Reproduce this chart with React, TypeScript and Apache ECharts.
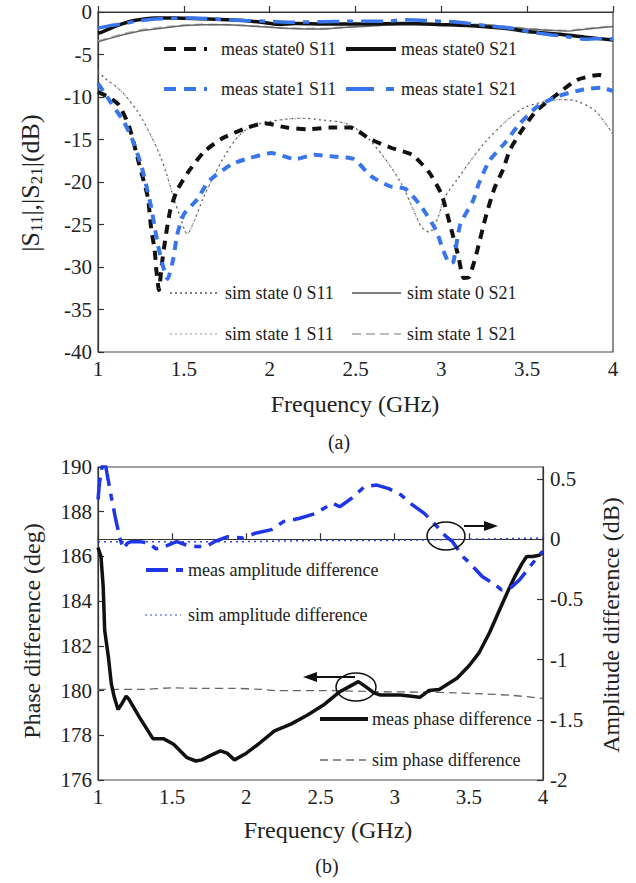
import React, { useEffect, useRef } from "react";
import * as echarts from "echarts";

// ---------- data (top chart: |S11|, |S21| in dB vs frequency GHz) ----------
const freqTicks = [1, 1.5, 2, 2.5, 3, 3.5, 4];

const measState0S11: [number, number][] = [
  [1.0, -9.4], [1.06, -10.0], [1.12, -10.9], [1.18, -13.4], [1.24, -17.9], [1.29, -21.8],
  [1.31, -25.5], [1.33, -28.0], [1.34, -30.4], [1.355, -32.7], [1.37, -30.0], [1.39, -27.0],
  [1.42, -23.4], [1.46, -21.0], [1.53, -18.7], [1.62, -16.4], [1.73, -14.8], [1.87, -13.6],
  [1.97, -13.1], [2.1, -13.6], [2.22, -13.8], [2.35, -13.6], [2.47, -13.6], [2.59, -15.0],
  [2.71, -16.0], [2.83, -16.8], [2.93, -18.9], [3.0, -21.4], [3.04, -24.2], [3.07, -26.5],
  [3.1, -28.8], [3.13, -31.3], [3.16, -31.2], [3.19, -29.5], [3.21, -28.0], [3.26, -24.0],
  [3.31, -20.7], [3.36, -18.5], [3.4, -16.2], [3.47, -13.9], [3.55, -11.7], [3.68, -9.6],
  [3.79, -8.0], [3.92, -7.4], [3.96, -7.6],
];

const measState1S11: [number, number][] = [
  [1.0, -8.4], [1.07, -10.5], [1.15, -12.9], [1.2, -15.0], [1.25, -17.9], [1.28, -20.3],
  [1.31, -23.0], [1.33, -25.3], [1.35, -27.5], [1.38, -30.0], [1.405, -31.4], [1.44, -28.9],
  [1.46, -26.3], [1.5, -23.8], [1.58, -22.0], [1.645, -19.9], [1.78, -17.9], [1.88, -17.2],
  [2.01, -16.6], [2.15, -17.3], [2.26, -16.8], [2.37, -17.0], [2.49, -17.3], [2.59, -19.3],
  [2.7, -20.5], [2.79, -20.8], [2.88, -22.8], [2.97, -25.7], [3.01, -28.0], [3.05, -29.6],
  [3.07, -29.4], [3.11, -25.0], [3.185, -22.2], [3.22, -20.1], [3.28, -17.5], [3.37, -15.4],
  [3.45, -13.3], [3.56, -11.1], [3.68, -9.9], [3.81, -9.2], [3.93, -8.9], [4.0, -9.3],
];

const simState0S11: [number, number][] = [
  [1.0, -7.0], [1.04, -7.8], [1.13, -9.2], [1.23, -11.7], [1.305, -14.4], [1.36, -16.8],
  [1.4, -19.1], [1.44, -21.8], [1.48, -24.2], [1.52, -26.1], [1.56, -24.6], [1.615, -21.8],
  [1.67, -19.5], [1.73, -17.2], [1.81, -14.8], [1.89, -13.5], [2.0, -12.9], [2.1, -12.6],
  [2.2, -12.5], [2.3, -12.7], [2.44, -13.1], [2.55, -14.4], [2.67, -17.2], [2.77, -20.3],
  [2.84, -23.4], [2.885, -25.3], [2.93, -25.9], [2.98, -24.2], [3.02, -21.8], [3.1, -19.5],
  [3.17, -17.5], [3.26, -15.2], [3.38, -12.8], [3.48, -11.3], [3.57, -10.7], [3.69, -10.3],
  [3.79, -10.5], [3.9, -11.7], [4.0, -14.4],
];

const simState1S11: [number, number][] = [
  [1.0, -7.0], [1.04, -7.8], [1.13, -9.2], [1.23, -11.7], [1.305, -14.4], [1.36, -16.8],
  [1.4, -19.1], [1.44, -21.8], [1.48, -24.2], [1.52, -26.1], [1.56, -24.6], [1.615, -21.8],
  [1.67, -19.5], [1.73, -17.2], [1.81, -14.8], [1.89, -13.5], [2.0, -12.9], [2.1, -12.6],
  [2.2, -12.5], [2.3, -12.7], [2.44, -13.1], [2.55, -14.4], [2.67, -17.2], [2.77, -20.3],
  [2.84, -23.4], [2.885, -25.3], [2.93, -25.9], [2.98, -24.2], [3.02, -21.8], [3.1, -19.5],
  [3.17, -17.5], [3.26, -15.2], [3.38, -12.8], [3.48, -11.3], [3.57, -10.7], [3.69, -10.3],
  [3.79, -10.5], [3.9, -11.7], [4.0, -14.4],
];

const measState0S21: [number, number][] = [
  [1.0, -2.5], [1.03, -2.3], [1.07, -1.95], [1.14, -1.4], [1.21, -1.0], [1.33, -0.7],
  [1.45, -0.7], [1.61, -0.8], [1.75, -0.9], [1.85, -1.0], [1.95, -1.2], [2.05, -1.45],
  [2.15, -1.35], [2.32, -1.4], [2.55, -1.4], [2.79, -1.35], [3.02, -1.5], [3.15, -1.6],
  [3.26, -1.75], [3.4, -2.0], [3.5, -2.3], [3.62, -2.5], [3.73, -2.7], [3.86, -3.0], [4.0, -3.3],
];

const measState1S21: [number, number][] = [
  [1.0, -1.9], [1.07, -1.6], [1.14, -1.4], [1.25, -1.0], [1.37, -0.8], [1.54, -0.7],
  [1.7, -0.85], [1.85, -1.0], [2.0, -1.1], [2.13, -1.2], [2.3, -1.15], [2.44, -1.1],
  [2.67, -1.1], [2.8, -0.9], [2.91, -1.0], [3.1, -1.2], [3.26, -1.6], [3.4, -1.9],
  [3.57, -2.5], [3.73, -2.9], [3.85, -3.2], [3.95, -3.1], [4.0, -3.2],
];

const simState0S21: [number, number][] = [
  [1.0, -3.5], [1.07, -3.1], [1.14, -2.7], [1.25, -2.2], [1.37, -1.9], [1.5, -1.6],
  [1.61, -1.5], [1.75, -1.5], [1.85, -1.6], [2.0, -1.8], [2.08, -1.9], [2.2, -2.0],
  [2.32, -2.0], [2.45, -1.8], [2.55, -1.7], [2.7, -1.5], [2.79, -1.4], [3.02, -1.4],
  [3.26, -1.5], [3.5, -2.0], [3.62, -2.15], [3.74, -2.25], [3.85, -2.0], [4.0, -1.7],
];

const simState1S21: [number, number][] = [
  [1.0, -3.4], [1.07, -3.0], [1.14, -2.6], [1.25, -2.1], [1.37, -1.8], [1.5, -1.55],
  [1.61, -1.45], [1.75, -1.5], [1.85, -1.6], [2.0, -1.75], [2.08, -1.85], [2.2, -1.95],
  [2.32, -1.95], [2.45, -1.75], [2.55, -1.65], [2.7, -1.5], [2.79, -1.4], [3.02, -1.4],
  [3.26, -1.5], [3.5, -1.95], [3.62, -2.1], [3.74, -2.2], [3.85, -1.95], [4.0, -1.65],
];

// ---------- data (bottom chart: phase diff deg, amplitude diff dB) ----------
const measPhaseDiff: [number, number][] = [
  [1.0, 186.4], [1.02, 186.0], [1.035, 184.65], [1.045, 182.7], [1.07, 181.5], [1.09, 180.3],
  [1.11, 179.7], [1.135, 179.15], [1.16, 179.4], [1.19, 179.75], [1.21, 179.6], [1.28, 178.8],
  [1.37, 177.85], [1.44, 177.85], [1.51, 177.6], [1.6, 177.0], [1.66, 176.85], [1.7, 176.9],
  [1.76, 177.1], [1.825, 177.3], [1.87, 177.2], [1.92, 176.9], [2.0, 177.2], [2.08, 177.6],
  [2.19, 178.2], [2.3, 178.5], [2.41, 178.9], [2.52, 179.35], [2.63, 179.95], [2.7, 180.2],
  [2.755, 180.4], [2.8, 180.2], [2.86, 179.9], [2.905, 179.8], [3.04, 179.8], [3.17, 179.7],
  [3.23, 180.0], [3.3, 180.05], [3.42, 180.55], [3.5, 181.1], [3.57, 181.7], [3.64, 182.6],
  [3.7, 183.5], [3.76, 184.4], [3.81, 185.1], [3.86, 185.7], [3.89, 186.0], [3.93, 186.0],
  [3.975, 186.05], [4.0, 186.2],
];

const simPhaseDiff: [number, number][] = [
  [1.0, 180.05], [1.3, 180.05], [1.5, 180.12], [1.7, 180.1], [1.9, 180.1], [2.1, 180.05],
  [2.2, 180.0], [2.5, 180.0], [2.9, 179.95], [3.2, 179.93], [3.4, 179.9], [3.6, 179.85],
  [3.8, 179.78], [4.0, 179.65],
];

const measAmpDiff: [number, number][] = [
  [1.0, 0.33], [1.01, 0.47], [1.03, 0.62], [1.045, 0.66], [1.06, 0.55], [1.09, 0.35],
  [1.12, 0.16], [1.15, 0.0], [1.17, -0.08], [1.2, -0.03], [1.225, -0.02], [1.28, -0.02],
  [1.34, -0.03], [1.39, -0.08], [1.46, -0.056], [1.53, -0.02], [1.6, -0.05], [1.66, -0.06],
  [1.73, -0.06], [1.785, -0.02], [1.87, 0.02], [1.98, 0.01], [2.06, 0.05], [2.17, 0.08],
  [2.25, 0.146], [2.36, 0.174], [2.47, 0.215], [2.58, 0.3], [2.63, 0.27], [2.71, 0.34],
  [2.795, 0.436], [2.88, 0.45], [2.96, 0.42], [3.04, 0.37], [3.12, 0.285], [3.2, 0.215],
  [3.29, 0.1], [3.34, 0.03], [3.39, -0.02], [3.46, -0.145], [3.5, -0.19], [3.59, -0.31],
  [3.68, -0.38], [3.72, -0.42], [3.785, -0.4], [3.84, -0.34], [3.885, -0.27], [3.975, -0.13],
  [4.0, -0.1],
];

const simAmpDiff: [number, number][] = [
  [1.0, -0.02], [1.5, -0.02], [2.0, -0.02], [2.5, -0.01], [3.0, -0.01], [3.5, 0.0], [4.0, 0.01],
];

const FONT = "'Liberation Serif', 'Times New Roman', 'DejaVu Serif', serif";
const BLUE_TOP = "#3a76eb";
const BLUE_BOT = "#1f35e8";

const axisLineStyle = { color: "#333", width: 1.2 };
const tickLabel = { color: "#222", fontSize: 21, fontFamily: FONT };

function legendLine(x1: number, x2: number, y: number, stroke: string, lineWidth: number, lineDash?: number[]) {
  return {
    type: "line",
    shape: { x1, y1: y, x2, y2: y },
    style: { stroke, lineWidth, lineDash: lineDash || null },
    z: 10,
  };
}
function legendText(x: number, y: number, text: string) {
  return {
    type: "text",
    x,
    y,
    style: { text, fontSize: 18, fontFamily: FONT, fill: "#222", align: "left", verticalAlign: "middle" },
    z: 10,
  };
}
function centerText(x: number, y: number, text: string, fontSize: number, rotation = 0) {
  return {
    type: "text",
    x,
    y,
    rotation,
    style: { text, fontSize, fontFamily: FONT, fill: "#222", align: "center", verticalAlign: "middle" },
    z: 10,
  };
}

const DASH_S11_LEGEND = [12, 8, 12, 8, 3, 8];
const DASH_S11 = [9, 7];
const DASH_S21B = [22, 8, 6, 8];
const DASH_AMP = [22, 8, 7, 8];

function buildOption() {
  const graphic: any[] = [
    // top legends
    legendLine(164, 212, 49, "#111", 4, DASH_S11_LEGEND),
    legendText(221, 49, "meas state0 S11"),
    legendLine(346, 396, 49, "#111", 4),
    legendText(401, 49, "meas state0 S21"),
    legendLine(164, 212, 89, BLUE_TOP, 4, DASH_S11_LEGEND),
    legendText(221, 89, "meas state1 S11"),
    legendLine(346, 396, 89, BLUE_TOP, 4, [28, 12, 8, 12]),
    legendText(401, 89, "meas state1 S21"),
    legendLine(170, 219, 293, "#555", 1.5, [2, 3]),
    legendText(225, 293, "sim state 0 S11"),
    legendLine(352, 401, 293, "#555", 1.5),
    legendText(407, 293, "sim state 0 S21"),
    legendLine(170, 219, 334, "#bbb", 1.5, [2, 3]),
    legendText(225, 334, "sim state 1 S11"),
    legendLine(352, 401, 334, "#bbb", 2, [9, 5]),
    legendText(407, 334, "sim state 1 S21"),
    // bottom legends
    legendLine(146, 184, 570, BLUE_BOT, 4, [22, 8, 7, 8]),
    legendText(188, 570, "meas amplitude difference"),
    legendLine(145, 181, 615, "#7a84e6", 1.5, [2, 3]),
    legendText(188, 615, "sim amplitude difference"),
    legendLine(320, 368, 719, "#111", 4),
    legendText(372, 719, "meas phase difference"),
    legendLine(320, 366, 760, "#666", 1.5, [8, 5]),
    legendText(372, 760, "sim phase difference"),
    // annotations
    { type: "ellipse", shape: { cx: 446, cy: 536, rx: 19, ry: 14 }, style: { fill: "none", stroke: "#111", lineWidth: 1.5 }, z: 10 },
    { type: "line", shape: { x1: 464, y1: 526, x2: 486, y2: 526 }, style: { stroke: "#111", lineWidth: 2 }, z: 10 },
    { type: "polygon", shape: { points: [[498, 526], [484, 521], [484, 531]] }, style: { fill: "#111" }, z: 10 },
    { type: "ellipse", shape: { cx: 356, cy: 687, rx: 20, ry: 14 }, style: { fill: "none", stroke: "#111", lineWidth: 1.5 }, z: 10 },
    { type: "line", shape: { x1: 355, y1: 677, x2: 315, y2: 677 }, style: { stroke: "#111", lineWidth: 2 }, z: 10 },
    { type: "polygon", shape: { points: [[303, 677], [317, 672], [317, 682]] }, style: { fill: "#111" }, z: 10 },
    // titles
    centerText(355, 404, "Frequency (GHz)", 24),
    centerText(339, 442, "(a)", 20),
    centerText(328, 830, "Frequency (GHz)", 24),
    centerText(327, 866, "(b)", 20),
    centerText(32, 631, "Phase difference (deg)", 24, Math.PI / 2),
    centerText(611, 625, "Amplitude difference (dB)", 24, Math.PI / 2),
    {
      type: "text",
      x: 30,
      y: 183,
      rotation: Math.PI / 2,
      style: {
        text: "|S{s|11}|,|S{s|21}|(dB)",
        fontSize: 26,
        fontFamily: FONT,
        fill: "#222",
        align: "center",
        verticalAlign: "middle",
        lineHeight: 30,
        rich: {
          s: { fontSize: 17, fontFamily: FONT, fill: "#222", verticalAlign: "bottom", lineHeight: 17 },
        },
      },
      z: 10,
    },
  ];

  const lineSeries = (
    name: string,
    data: [number, number][],
    color: string,
    width: number,
    type: any,
    axis: { x: number; y: number },
    smooth: number | boolean = false
  ) => ({
    name,
    type: "line",
    xAxisIndex: axis.x,
    yAxisIndex: axis.y,
    data,
    showSymbol: false,
    symbol: "none",
    smooth,
    clip: true,
    lineStyle: { color, width, type, cap: "butt" },
    itemStyle: { color },
  });

  const top = { x: 0, y: 0 };
  const botL = { x: 1, y: 1 };
  const botR = { x: 1, y: 2 };

  return {
    animation: false,
    backgroundColor: "#fff",
    textStyle: { fontFamily: FONT },
    grid: [
      { left: 98, top: 12, width: 515, height: 340, show: true, borderColor: "#444", borderWidth: 1.2, backgroundColor: "transparent", containLabel: false, outerBoundsMode: "none" },
      { left: 98, top: 467, width: 445, height: 313, show: true, borderColor: "#444", borderWidth: 1.2, backgroundColor: "transparent", containLabel: false, outerBoundsMode: "none" },
    ],
    xAxis: [0, 1].map((g) => ({
      type: "value",
      gridIndex: g,
      min: freqTicks[0],
      max: freqTicks[freqTicks.length - 1],
      interval: 0.5,
      axisLine: { show: true, lineStyle: axisLineStyle },
      axisTick: { inside: true, length: 6, lineStyle: { color: "#333", width: 1.2 } },
      axisLabel: { ...tickLabel, margin: 6 },
      splitLine: { show: false },
    })),
    yAxis: [
      {
        type: "value",
        gridIndex: 0,
        min: -40,
        max: 0,
        interval: 5,
        axisLine: { show: true, lineStyle: axisLineStyle },
        axisTick: { inside: true, length: 6, lineStyle: { color: "#333", width: 1.2 } },
        axisLabel: { ...tickLabel, margin: 6 },
        splitLine: { show: false },
      },
      {
        type: "value",
        gridIndex: 1,
        min: 176,
        max: 190,
        interval: 2,
        axisLine: { show: true, lineStyle: axisLineStyle },
        axisTick: { inside: true, length: 6, lineStyle: { color: "#333", width: 1.2 } },
        axisLabel: { ...tickLabel, margin: 6 },
        splitLine: { show: false },
      },
      {
        type: "value",
        gridIndex: 1,
        position: "right",
        min: -2,
        max: 0.6,
        interval: 0.5,
        axisLine: { show: true, lineStyle: axisLineStyle },
        axisTick: { inside: true, length: 6, lineStyle: { color: "#333", width: 1.2 } },
        axisLabel: {
          ...tickLabel,
          margin: 7,
          showMaxLabel: false,
          formatter: (v: number) => (Math.abs(v - 0.6) < 1e-6 ? "" : String(v)),
        },
        splitLine: { show: false },
      },
    ],
    series: [
      lineSeries("sim state 1 S21", simState1S21, "#bbb", 2, [9, 5], top),
      lineSeries("sim state 0 S21", simState0S21, "#666", 1.5, "solid", top),
      lineSeries("sim state 1 S11", simState1S11, "#bbb", 1.5, [2, 3], top, 0.3),
      lineSeries("sim state 0 S11", simState0S11, "#555", 1.2, [1.5, 4], top, 0.3),
      lineSeries("meas state0 S21", measState0S21, "#111", 3.5, "solid", top, 0.3),
      lineSeries("meas state1 S21", measState1S21, BLUE_TOP, 3.5, DASH_S21B, top, 0.3),
      lineSeries("meas state0 S11", measState0S11, "#111", 4, DASH_S11, top, 0.2),
      lineSeries("meas state1 S11", measState1S11, BLUE_TOP, 4, DASH_S11, top, 0.2),
      lineSeries("sim phase difference", simPhaseDiff, "#666", 1.3, [8, 5], botL, 0.3),
      lineSeries("meas phase difference", measPhaseDiff, "#111", 3.5, "solid", botL),
      lineSeries("sim amplitude difference", simAmpDiff, "#3344dd", 1.5, [2, 4], botR),
      lineSeries("meas amplitude difference", measAmpDiff, BLUE_BOT, 3.5, DASH_AMP, botR),
    ],
    graphic,
  };
}

export default function App() {
  const ref = useRef<HTMLDivElement>(null);
  useEffect(() => {
    if (!ref.current) return;
    const chart = echarts.init(ref.current, null, { renderer: "svg" });
    chart.setOption(buildOption() as any);
    return () => chart.dispose();
  }, []);
  return (
    <div
      ref={ref}
      style={{ position: "absolute", left: 0, top: 0, width: 636, height: 883, background: "#fff" }}
    />
  );
}
